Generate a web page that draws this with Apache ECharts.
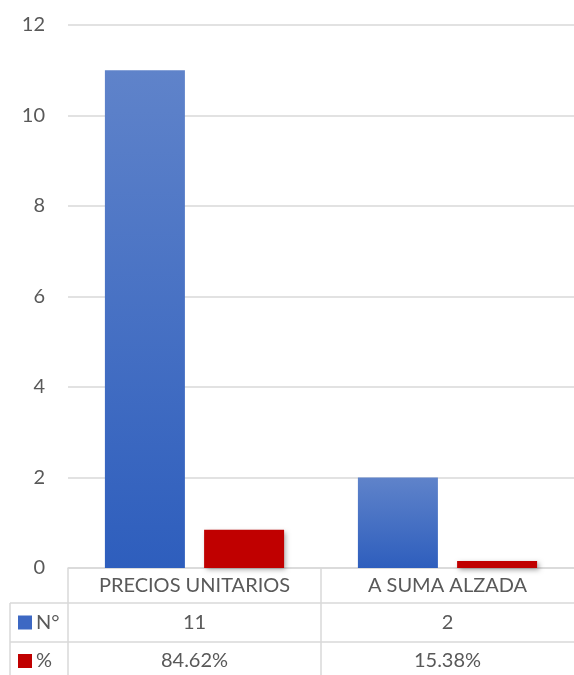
<!DOCTYPE html>
<html>
<head>
<meta charset="utf-8">
<script src="https://cdn.jsdelivr.net/npm/echarts@6/dist/echarts.min.js"></script>
<style>
html, body { margin: 0; padding: 0; background: #fff; }
#chart { width: 574px; height: 675px; }
</style>
</head>
<body>
<div id="chart"></div>
<script>
var myChart = echarts.init(document.getElementById('chart'));

// datos
var categorias = ['PRECIOS UNITARIOS', 'A SUMA ALZADA'];
var cantidad = [11, 2];
var porcentaje = [0.8462, 0.1538];
var etiquetasPct = ['84.62%', '15.38%'];
var nombresSerie = ['N°', '%'];

var fuente = 'Lato';
var gris = '#595959';
var linea = '#d9d9d9';
var tam = 20;

var sombra = {
    shadowBlur: 5,
    shadowColor: 'rgba(0,0,0,0.35)',
    shadowOffsetX: 2,
    shadowOffsetY: 2
};

myChart.setOption({
    animation: false,
    grid: { left: 68, right: -10, top: 25, bottom: 107 },
    xAxis: {
        type: 'category',
        data: categorias,
        axisLine: { lineStyle: { color: linea, width: 1.5 } },
        axisTick: { show: false },
        axisLabel: { color: gris, fontFamily: fuente, fontSize: tam, margin: 8 }
    },
    yAxis: {
        type: 'value',
        min: 0, max: 12, interval: 2,
        axisLine: { show: false },
        axisTick: { show: false },
        splitLine: { lineStyle: { color: linea, width: 1.5 } },
        axisLabel: { color: gris, fontFamily: fuente, fontSize: tam, margin: 23 }
    },
    series: [{
        name: nombresSerie[0],
        type: 'bar',
        data: cantidad,
        barWidth: 80,
        barGap: '24%',
        itemStyle: Object.assign({
            color: new echarts.graphic.LinearGradient(0, 0, 0, 1, [
                { offset: 0, color: '#5f83ca' },
                { offset: 1, color: '#2e5ebd' }
            ])
        }, sombra)
    }, {
        name: nombresSerie[1],
        type: 'bar',
        data: porcentaje,
        barWidth: 80,
        itemStyle: Object.assign({ color: '#c00000' }, sombra)
    }]
});

// tabla de datos debajo del eje
function dibujarTabla() {
    var x0 = myChart.convertToPixel({ xAxisIndex: 0 }, 0);
    var x1 = myChart.convertToPixel({ xAxisIndex: 0 }, 1);
    var ancho = x1 - x0;
    var izq = x0 - ancho / 2;
    var medio = x0 + ancho / 2;
    var yEje = myChart.convertToPixel({ yAxisIndex: 0 }, 0);
    var fila1 = yEje + 35, fila2 = fila1 + 39, fin = 700;
    var e = [];
    var ln = function (a, b, c, d) {
        e.push({ type: 'line', shape: { x1: a, y1: b, x2: c, y2: d }, style: { stroke: linea, lineWidth: 1.5 } });
    };
    ln(izq, yEje, izq, fin);
    ln(medio, yEje, medio, fin);
    ln(10, fila1, 600, fila1);
    ln(10, fila2, 600, fila2);
    ln(10, fila1, 10, fin);
    var filas = [
        { y: (fila1 + fila2) / 2, vals: cantidad.map(String), col: '#3d68c3', nombre: nombresSerie[0] },
        { y: fila2 + 19, vals: etiquetasPct, col: '#c00000', nombre: nombresSerie[1] }
    ];
    filas.forEach(function (f) {
        e.push({ type: 'rect', shape: { x: 18, y: f.y - 7, width: 14, height: 14 }, style: { fill: f.col } });
        e.push({ type: 'text', x: 36, y: f.y, style: { text: f.nombre, fill: gris, font: tam + 'px ' + fuente, verticalAlign: 'middle' } });
        f.vals.forEach(function (v, i) {
            e.push({ type: 'text', x: x0 + i * ancho, y: f.y, style: { text: v, fill: gris, font: tam + 'px ' + fuente, align: 'center', verticalAlign: 'middle' } });
        });
    });
    myChart.setOption({ graphic: e });
}
dibujarTabla();
</script>
</body>
</html>
